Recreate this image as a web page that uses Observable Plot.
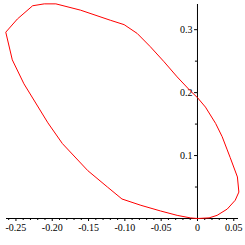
<!DOCTYPE html>
<html>
<head>
<meta charset="utf-8">
<script src="https://cdn.jsdelivr.net/npm/d3@7"></script>
<script src="https://cdn.jsdelivr.net/npm/@observablehq/plot@0.6"></script>
<style>
  html, body { margin: 0; padding: 0; background: #fff; }
  #chart svg { display: block; }
</style>
</head>
<body>
<div id="chart"></div>
<script>
// Closed curve
const curveX = [0, 0.016, 0.027, 0.041, 0.052, 0.057, 0.055, 0.045, 0.041, 0.034, 0.025, 0.011, 0,
  -0.010, -0.028, -0.046, -0.065, -0.083, -0.101, -0.120, -0.161, -0.195, -0.211, -0.227,
  -0.248, -0.264, -0.255, -0.239, -0.206, -0.186, -0.151, -0.124, -0.104, -0.078, -0.051,
  -0.028, -0.010, 0];
const curveY = [0, 0.001, 0.005, 0.015, 0.029, 0.042, 0.066, 0.097, 0.109, 0.130, 0.151, 0.177, 0.192,
  0.203, 0.225, 0.249, 0.273, 0.294, 0.308, 0.315, 0.331, 0.341, 0.341, 0.338,
  0.317, 0.296, 0.252, 0.214, 0.152, 0.119, 0.076, 0.050, 0.031, 0.021, 0.012,
  0.005, 0.001, 0];

const xMajor = [-0.25, -0.20, -0.15, -0.10, -0.05, 0, 0.05];
const xTickLabels = ["-0.25", "-0.20", "-0.15", "-0.10", "-0.05", "0", "0.05"];
const xMinor = [-0.26, -0.24, -0.23, -0.22, -0.21, -0.19, -0.18, -0.17, -0.16, -0.14, -0.13,
  -0.12, -0.11, -0.09, -0.08, -0.07, -0.06, -0.04, -0.03, -0.02, -0.01, 0.01, 0.02, 0.03, 0.04];
const yMajor = [0.1, 0.2, 0.3];
const yTickLabels = ["0.1", "0.2", "0.3"];
const yMinor = [0.05, 0.15, 0.25];

const xDomain = [-0.263, 0.0565];
const yDomain = [0, 0.34];

const pts = curveX.map((x, i) => ({x, y: curveY[i]}));
const yMajorLen = 0.004, yMinorLen = 0.0028;

const chart = Plot.plot({
  width: 245,
  height: 245,
  marginLeft: 6,
  marginRight: 7,
  marginTop: 4,
  marginBottom: 27,
  style: {fontFamily: "'Liberation Serif', 'DejaVu Serif', serif", fontSize: "10px", background: "#fff", color: "#000"},
  x: {domain: xDomain, label: null},
  y: {domain: yDomain, axis: null, label: null},
  marks: [
    Plot.ruleY([0], {stroke: "#000", strokeWidth: 1}),
    Plot.ruleX([0], {stroke: "#000", strokeWidth: 1}),
    Plot.axisX(xMajor, {tickSize: 3, tickPadding: 2, tickFormat: d => xTickLabels[xMajor.indexOf(d)], stroke: "#000", fill: "#000", fontSize: 10, label: null}),
    Plot.axisX(xMinor, {tickSize: 2, tickFormat: () => "", stroke: "#000", label: null}),
    Plot.ruleY(yMajor, {y: d => d, x1: 0, x2: -yMajorLen, stroke: "#000"}),
    Plot.ruleY(yMinor, {y: d => d, x1: 0, x2: -yMinorLen, stroke: "#000"}),
    Plot.text(yMajor, {x: 0, y: d => d, text: (d, i) => yTickLabels[i], dx: -5, textAnchor: "end", fill: "#000", fontSize: 10}),
    Plot.line(pts, {x: "x", y: "y", stroke: "#ff0000", strokeWidth: 1, curve: "linear"})
  ]
});
document.getElementById("chart").appendChild(chart);
</script>
</body>
</html>
